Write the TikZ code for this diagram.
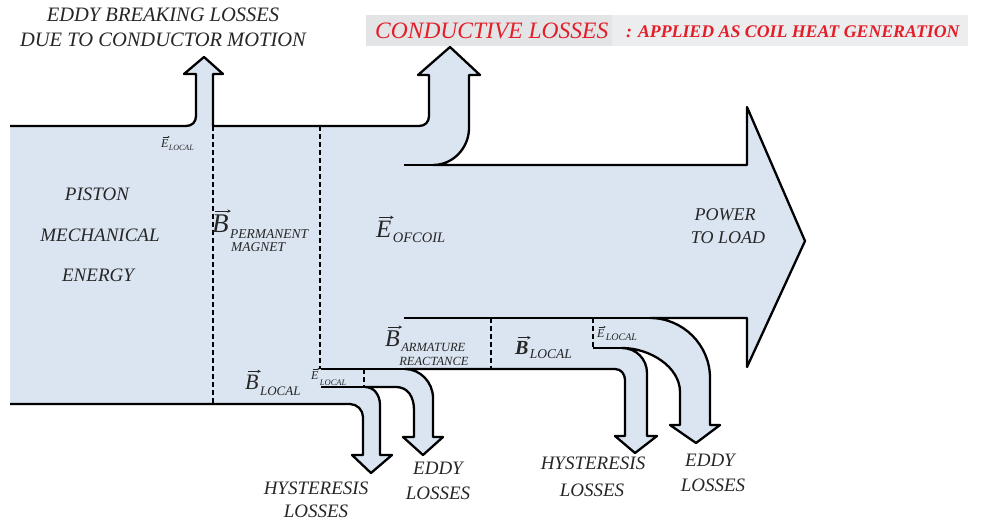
\documentclass[tikz,border=0pt]{standalone}
\usepackage{fontspec}
\setmainfont{Liberation Serif}
\usetikzlibrary{arrows.meta}
\definecolor{flow}{RGB}{219,229,241}
\definecolor{ink}{RGB}{38,38,38}
\definecolor{redtxt}{RGB}{228,30,40}
\definecolor{boxa}{RGB}{227,228,230}
\definecolor{boxb}{RGB}{236,237,239}
\tikzset{
  fs/.style={inner sep=0pt, text=ink, font=\fontsize{#1}{#1}\selectfont\itshape},
  outline/.style={line width=2.3pt, line join=round, draw=black},
  inner/.style={line width=2.3pt, draw=black},
  dashline/.style={line width=1.9pt, draw=black, dash pattern=on 5pt off 3pt},
  vecbig/.style={draw=ink, line width=0.9pt, -{Stealth[length=3.5pt,width=3.5pt]}},
  vecsmall/.style={draw=ink, line width=0.6pt, -{Stealth[length=2.2pt,width=2.2pt]}},
}
\begin{document}
\begin{tikzpicture}[x=1pt,y=-1pt]
\useasboundingbox (0,0) rectangle (982,525);
% title boxes
\fill[boxa] (366,15) rectangle (612,46);
\fill[boxb] (612,15) rectangle (968,46);
% flow body
\fill[flow] (10,126) -- (186,126) .. controls (192,126) and (196,122) .. (196,116) -- (196,74) -- (184,74) -- (204,57) -- (223,74) -- (213,74) -- (213,126) -- (419,126) .. controls (425,126) and (429,122) .. (429,116) -- (429,75) -- (418,75) -- (450,47) -- (480,75) -- (469,75) -- (469,128) .. controls (469,148) and (453,165) .. (433,165) -- (747,165) -- (747,107) -- (805,241) -- (747,367) -- (747,318) -- (650,318) .. controls (683,318) and (710,345) .. (710,378) -- (710,425) -- (720,425) -- (696,443) -- (670,425) -- (680,425) -- (680,392) .. controls (680,367) and (650,348) .. (622,348) .. controls (636,348) and (647,359) .. (647,373) -- (647,436) -- (657,436) -- (635,453) -- (615,436) -- (625,436) -- (625,380) .. controls (625,374) and (621,369) .. (615,369) -- (405,369) .. controls (420,369) and (433,382) .. (433,398) -- (433,437) -- (443,437) -- (423,455) -- (403,437) -- (414,437) -- (414,410) .. controls (414,397) and (408,387) .. (396,387) -- (365,387) .. controls (374,387) and (380,395) .. (380,405) -- (380,455) -- (392,455) -- (371,473) -- (352,455) -- (363,455) -- (363,417) .. controls (363,410) and (357,404) .. (350,404) -- (10,404) -- cycle;
\draw[outline] (10,126) -- (186,126) .. controls (192,126) and (196,122) .. (196,116) -- (196,74) -- (184,74) -- (204,57) -- (223,74) -- (213,74) -- (213,126) -- (419,126) .. controls (425,126) and (429,122) .. (429,116) -- (429,75) -- (418,75) -- (450,47) -- (480,75) -- (469,75) -- (469,128) .. controls (469,148) and (453,165) .. (433,165) -- (747,165) -- (747,107) -- (805,241) -- (747,367) -- (747,318) -- (650,318) .. controls (683,318) and (710,345) .. (710,378) -- (710,425) -- (720,425) -- (696,443) -- (670,425) -- (680,425) -- (680,392) .. controls (680,367) and (650,348) .. (622,348) .. controls (636,348) and (647,359) .. (647,373) -- (647,436) -- (657,436) -- (635,453) -- (615,436) -- (625,436) -- (625,380) .. controls (625,374) and (621,369) .. (615,369) -- (405,369) .. controls (420,369) and (433,382) .. (433,398) -- (433,437) -- (443,437) -- (423,455) -- (403,437) -- (414,437) -- (414,410) .. controls (414,397) and (408,387) .. (396,387) -- (365,387) .. controls (374,387) and (380,395) .. (380,405) -- (380,455) -- (392,455) -- (371,473) -- (352,455) -- (363,455) -- (363,417) .. controls (363,410) and (357,404) .. (350,404) -- (10,404);
% interior solid lines
\draw[inner] (404,165) -- (433,165);
\draw[inner] (404,318) -- (650,318);
\draw[inner] (321,369) -- (405,369);
\draw[inner] (593,348) -- (622,348);
\draw[inner] (321,387) -- (365,387);
% dashed boundaries
\draw[dashline] (213,126) -- (213,404);
\draw[dashline] (320,126) -- (320,369);
\draw[dashline] (491,318) -- (491,369);
\draw[dashline] (593,318) -- (593,348);
\draw[dashline] (364,369) -- (364,387);
% top labels
\node[fs=20.5] (eb1) at (163,15) {EDDY BREAKING LOSSES};
\node[fs=20.5] (eb2) at (163,40) {DUE TO CONDUCTOR MOTION};
\node[fs=23.5, text=redtxt, anchor=base west] (cond) at (375,38) {CONDUCTIVE LOSSES};
\node[inner sep=0pt, text=redtxt, font=\fontsize{17.8}{17.8}\selectfont\bfseries\itshape, anchor=base west] (appl) at (626,37) {: APPLIED AS COIL HEAT GENERATION};
% left block
\node[fs=19] (piston) at (97,194) {PISTON};
\node[fs=19] (mech) at (100,235) {MECHANICAL};
\node[fs=19] (energy) at (98,275) {ENERGY};
% E local (top)
\node[fs=12, anchor=base west] (etop) at (161,147) {E};
\node[fs=8, anchor=base west] (etops) at ([yshift=-3pt]etop.base east) {LOCAL};
\draw[vecsmall] ([xshift=1.5pt,yshift=2pt]etop.north west) -- ([xshift=1pt,yshift=2pt]etop.north east);
% B permanent magnet
\node[fs=27, anchor=base west] (bperm) at (212,232) {B};
\node[fs=13.5, anchor=base west] (bperms1) at ([xshift=1pt,yshift=-6pt]bperm.base east) {PERMANENT};
\node[fs=13.5, anchor=base west] (bperms2) at ([xshift=2pt,yshift=-19pt]bperm.base east) {MAGNET};
\draw[vecbig] ([xshift=3pt,yshift=3pt]bperm.north west) -- ([xshift=2pt,yshift=3pt]bperm.north east);
% E of coil
\node[fs=25, anchor=base west] (ecoil) at (376,237) {E};
\node[fs=14.5, anchor=base west] (ecoils) at ([xshift=1pt,yshift=-5pt]ecoil.base east) {OFCOIL};
\draw[vecbig] ([xshift=3pt,yshift=3pt]ecoil.north west) -- ([xshift=2pt,yshift=3pt]ecoil.north east);
% B armature reactance
\node[fs=24, anchor=base west] (barm) at (385,346) {B};
\node[fs=12.5, anchor=base west] (barms1) at ([xshift=1pt,yshift=-5pt]barm.base east) {ARMATURE};
\node[fs=12.5, anchor=base west] (barms2) at ([xshift=-1pt,yshift=-19pt]barm.base east) {REACTANCE};
\draw[vecbig] ([xshift=3pt,yshift=3pt]barm.north west) -- ([xshift=2pt,yshift=3pt]barm.north east);
% B local (left)
\node[fs=22, anchor=base west] (blocl) at (245,389) {B};
\node[fs=13, anchor=base west] (blocls) at ([xshift=1pt,yshift=-6pt]blocl.base east) {LOCAL};
\draw[vecbig] ([xshift=3pt,yshift=3pt]blocl.north west) -- ([xshift=2pt,yshift=3pt]blocl.north east);
% E local (lower left)
\node[fs=12, anchor=base west] (elocl) at (311,379) {E};
\node[fs=8.5, anchor=base west] (elocls) at ([xshift=1pt,yshift=-6pt]elocl.base east) {LOCAL};
\draw[vecsmall] ([xshift=1.5pt,yshift=2pt]elocl.north west) -- ([xshift=1pt,yshift=2pt]elocl.north east);
% B local (right)
\node[fs=20, anchor=base west, font=\fontsize{20}{20}\selectfont\bfseries\itshape] (blocr) at (515,354) {B};
\node[fs=13.5, anchor=base west] (blocrs) at ([xshift=1pt,yshift=-4pt]blocr.base east) {LOCAL};
\draw[vecbig] ([xshift=3pt,yshift=3pt]blocr.north west) -- ([xshift=2pt,yshift=3pt]blocr.north east);
% E local (right)
\node[fs=12, anchor=base west] (elocr) at (597,337) {E};
\node[fs=10, anchor=base west] (elocrs) at ([xshift=1pt,yshift=-3pt]elocr.base east) {LOCAL};
\draw[vecsmall] ([xshift=1.5pt,yshift=2pt]elocr.north west) -- ([xshift=1pt,yshift=2pt]elocr.north east);
% power to load
\node[fs=18] (pow1) at (725,215) {POWER};
\node[fs=18] (pow2) at (728,238) {TO LOAD};
% bottom labels
\node[fs=19] (hys1a) at (316,488) {HYSTERESIS};
\node[fs=19] (hys1b) at (316,511) {LOSSES};
\node[fs=19] (edd1a) at (438,468) {EDDY};
\node[fs=19] (edd1b) at (438,493) {LOSSES};
\node[fs=19] (hys2a) at (593,463) {HYSTERESIS};
\node[fs=19] (hys2b) at (592,490) {LOSSES};
\node[fs=19] (edd2a) at (710,460) {EDDY};
\node[fs=19] (edd2b) at (713,485) {LOSSES};
\end{tikzpicture}
\end{document}
